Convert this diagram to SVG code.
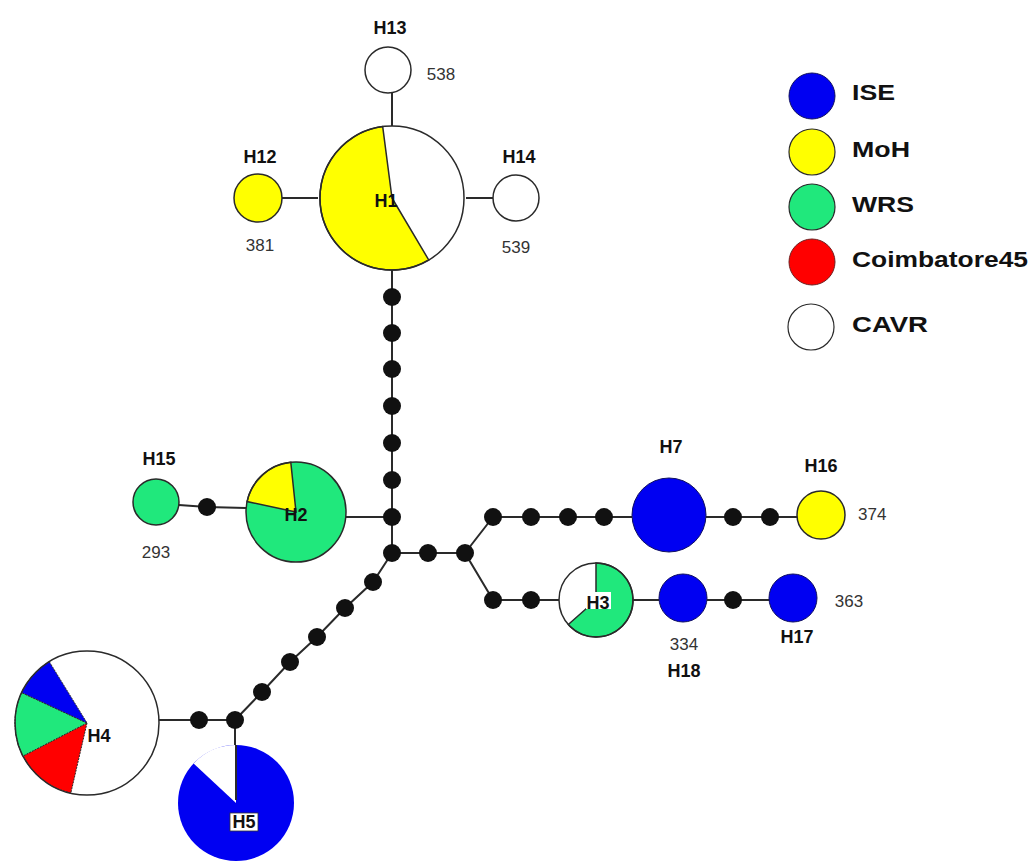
<svg xmlns="http://www.w3.org/2000/svg" width="1031" height="864" viewBox="0 0 1031 864">
<style>
.bg{fill:#ffffff}
.ln{stroke:#2a2a2a;stroke-width:2;fill:none}
.dot{fill:#111111}
.ol{fill:none;stroke:#2a2a2a;stroke-width:1.5}
.w{fill:#ffffff}
.b{fill:#0000f2}
.y{fill:#ffff00}
.g{fill:#20e87c}
.r{fill:#ff0000}
.lbl{font-family:"Liberation Sans",Arial,sans-serif;font-weight:bold;font-size:18px;fill:#111111;text-anchor:middle}
.num{font-family:"Liberation Sans",Arial,sans-serif;font-size:17px;fill:#333333;text-anchor:middle}
.leg{font-family:"Liberation Sans",Arial,sans-serif;font-weight:bold;font-size:22px;fill:#111111}
</style>
<rect class="bg" x="0" y="0" width="1031" height="864"/>
<g id="connectors">
<line class="ln" x1="392" y1="92" x2="392" y2="129"/>
<line class="ln" x1="282" y1="198" x2="318" y2="198"/>
<line class="ln" x1="466" y1="198" x2="493" y2="198"/>
<line class="ln" x1="392" y1="267" x2="392" y2="553"/>
<line class="ln" x1="345" y1="517" x2="392" y2="517"/>
<polyline class="ln" points="179,505 207,507 246,508"/>
<line class="ln" x1="392" y1="553" x2="465" y2="553"/>
<polyline class="ln" points="493,517 465,553 493,600"/>
<line class="ln" x1="493" y1="517" x2="632" y2="517"/>
<line class="ln" x1="706" y1="517" x2="797" y2="517"/>
<line class="ln" x1="493" y1="600" x2="559" y2="600"/>
<line class="ln" x1="633" y1="600" x2="659" y2="600"/>
<line class="ln" x1="707" y1="600" x2="770" y2="600"/>
<polyline class="ln" points="392,553 373,582 345,608 317,637 290,662 262,692 235,720"/>
<line class="ln" x1="235" y1="720" x2="159" y2="720"/>
<line class="ln" x1="235" y1="720" x2="235" y2="746"/>
</g>
<g id="median-vectors">
<circle class="dot" cx="392" cy="297" r="9"/>
<circle class="dot" cx="392" cy="333" r="9"/>
<circle class="dot" cx="392" cy="369" r="9"/>
<circle class="dot" cx="392" cy="406" r="9"/>
<circle class="dot" cx="392" cy="443" r="9"/>
<circle class="dot" cx="392" cy="480" r="9"/>
<circle class="dot" cx="392" cy="517" r="9"/>
<circle class="dot" cx="392" cy="553" r="9"/>
<circle class="dot" cx="428" cy="553" r="9"/>
<circle class="dot" cx="465" cy="553" r="9"/>
<circle class="dot" cx="493" cy="517" r="9"/>
<circle class="dot" cx="531" cy="517" r="9"/>
<circle class="dot" cx="568" cy="517" r="9"/>
<circle class="dot" cx="604" cy="517" r="9"/>
<circle class="dot" cx="733" cy="517" r="9"/>
<circle class="dot" cx="770" cy="517" r="9"/>
<circle class="dot" cx="493" cy="600" r="9"/>
<circle class="dot" cx="531" cy="600" r="9"/>
<circle class="dot" cx="733" cy="600" r="9"/>
<circle class="dot" cx="373" cy="582" r="9"/>
<circle class="dot" cx="345" cy="608" r="9"/>
<circle class="dot" cx="317" cy="637" r="9"/>
<circle class="dot" cx="290" cy="662" r="9"/>
<circle class="dot" cx="262" cy="692" r="9"/>
<circle class="dot" cx="235" cy="720" r="9"/>
<circle class="dot" cx="199" cy="720" r="9"/>
<circle class="dot" cx="207" cy="507" r="9"/>
</g>
<g id="H1">
<circle class="w" cx="392" cy="198" r="72"/>
<path class="y" d="M392,198 L428.7,259.9 A72,72 0 1 1 382.7,126.6 Z" stroke="#2a2a2a" stroke-width="1.5"/>
<circle class="ol" cx="392" cy="198" r="72"/>
<text class="lbl" x="386" y="207">H1</text>
</g>
<g id="H12">
<circle class="y" cx="258" cy="198" r="24" stroke="#2a2a2a" stroke-width="1.5"/>
<text class="lbl" x="260" y="163">H12</text>
<text class="num" x="260" y="251">381</text>
</g>
<g id="H13">
<circle class="w" cx="388" cy="70" r="23" stroke="#2a2a2a" stroke-width="1.5"/>
<text class="lbl" x="390" y="34">H13</text>
<text class="num" x="441" y="80">538</text>
</g>
<g id="H14">
<circle class="w" cx="516" cy="198" r="23" stroke="#2a2a2a" stroke-width="1.5"/>
<text class="lbl" x="519" y="163">H14</text>
<text class="num" x="516" y="253">539</text>
</g>
<g id="H2">
<circle class="g" cx="296" cy="512" r="50"/>
<path class="y" d="M296,512 L247.1,501.6 A50,50 0 0 1 290.8,462.3 Z" stroke="#2a2a2a" stroke-width="1.5"/>
<circle class="ol" cx="296" cy="512" r="50"/>
<text class="lbl" x="296" y="521">H2</text>
</g>
<g id="H15">
<circle class="g" cx="156" cy="502" r="23" stroke="#2a2a2a" stroke-width="1.5"/>
<text class="lbl" x="159" y="465">H15</text>
<text class="num" x="156" y="558">293</text>
</g>
<g id="H7">
<circle class="b" cx="669" cy="515" r="37" stroke="#101060" stroke-width="1"/>
<text class="lbl" x="671" y="453">H7</text>
</g>
<g id="H16">
<circle class="y" cx="821" cy="515" r="24" stroke="#2a2a2a" stroke-width="1.5"/>
<text class="lbl" x="821" y="472">H16</text>
<text class="num" x="858" y="520" style="text-anchor:start">374</text>
</g>
<g id="H3">
<circle class="w" cx="596" cy="600" r="37"/>
<path class="g" d="M596,600 L596,563 A37,37 0 1 1 568.3,624.5 Z" stroke="#2a2a2a" stroke-width="1.5"/>
<circle class="ol" cx="596" cy="600" r="37"/>
<rect class="w" x="586" y="592" width="25" height="17"/>
<text class="lbl" x="598" y="609">H3</text>
</g>
<g id="H18">
<circle class="b" cx="683" cy="598" r="24" stroke="#101060" stroke-width="1"/>
<text class="num" x="684" y="650">334</text>
<text class="lbl" x="684" y="677">H18</text>
</g>
<g id="H17">
<circle class="b" cx="793" cy="598" r="24" stroke="#101060" stroke-width="1"/>
<text class="lbl" x="797" y="643">H17</text>
<text class="num" x="849" y="607">363</text>
</g>
<g id="H4">
<circle class="w" cx="87" cy="723" r="72"/>
<path class="r" d="M87,723 L70.8,793.1 A72,72 0 0 1 23,756 Z" stroke="#2a2a2a" stroke-width="1" stroke-dasharray="2,1"/>
<path class="g" d="M87,723 L23,756 A72,72 0 0 1 21.7,692.6 Z" stroke="#2a2a2a" stroke-width="1" stroke-dasharray="2,1"/>
<path class="b" d="M87,723 L21.7,692.6 A72,72 0 0 1 49.3,661.7 Z" stroke="#2a2a2a" stroke-width="1" stroke-dasharray="2,1"/>
<circle class="ol" cx="87" cy="723" r="72"/>
<text class="lbl" x="99" y="742">H4</text>
</g>
<g id="H5">
<circle class="b" cx="236" cy="803" r="58"/>
<path class="w" d="M236,803 L193.6,763.4 A58,58 0 0 1 236,745 Z"/>
<line class="ln" x1="236" y1="745" x2="236" y2="800" stroke-width="1.5"/>
<rect class="w" x="230" y="813" width="28" height="18" stroke="#333333" stroke-width="0.8"/>
<text class="lbl" x="244" y="828">H5</text>
</g>
<g id="legend">
<circle class="b" cx="812" cy="96" r="23" stroke="#101060" stroke-width="1"/>
<text class="leg" x="852" y="100" textLength="43" lengthAdjust="spacingAndGlyphs">ISE</text>
<circle class="y" cx="812" cy="152" r="23" stroke="#2a2a2a" stroke-width="1.2"/>
<text class="leg" x="852" y="157" textLength="58" lengthAdjust="spacingAndGlyphs">MoH</text>
<circle class="g" cx="812" cy="207" r="23" stroke="#2a2a2a" stroke-width="1.2"/>
<text class="leg" x="852" y="212" textLength="62" lengthAdjust="spacingAndGlyphs">WRS</text>
<circle class="r" cx="812" cy="262" r="23" stroke="#702020" stroke-width="1"/>
<text class="leg" x="852" y="267" textLength="176" lengthAdjust="spacingAndGlyphs">Coimbatore45</text>
<circle class="w" cx="811" cy="327" r="23" stroke="#2a2a2a" stroke-width="1.2"/>
<text class="leg" x="852" y="332" textLength="76" lengthAdjust="spacingAndGlyphs">CAVR</text>
</g>
</svg>
